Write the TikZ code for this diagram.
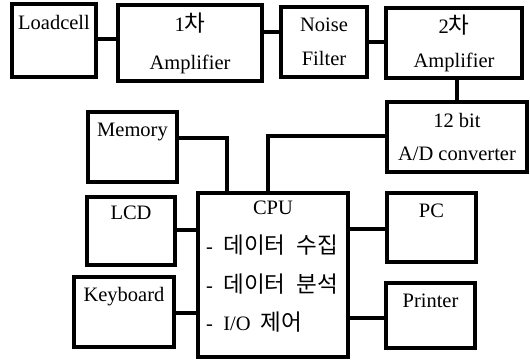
\documentclass[tikz,border=0pt]{standalone}
\usepackage{fontspec}
\setmainfont{Liberation Serif}
\newfontfamily\kr[Scale=1.1]{Noto Sans CJK KR}
\tikzset{
    blk/.style={draw, line width=3.2pt, inner sep=0pt},
    lbl/.style={anchor=north, inner sep=0pt, yshift=-12pt},
    wire/.style={line width=3.2pt},
}
\begin{document}
\begin{tikzpicture}[x=1pt,y=-1pt,font=\fontsize{20.5}{38}\selectfont]
        \useasboundingbox (0,0) rectangle (530,360);
        % top row
        \node[blk, minimum width=84pt, minimum height=73pt, label={[lbl,yshift=-1pt]north:Loadcell}] (load) at (54,40.5) {};
        \node[blk, minimum width=144pt, minimum height=76pt, align=center] (amp1) at (190,43) {1{\kr 차}\\Amplifier};
        \node[blk, minimum width=86pt, minimum height=70pt, align=center, font=\fontsize{20.5}{34}\selectfont] (noise) at (324,42) {Noise\\Filter};
        \node[blk, minimum width=136pt, minimum height=70pt, align=center, font=\fontsize{20.5}{34}\selectfont] (amp2) at (454,43) {2{\kr 차}\\Amplifier};
        \node[blk, minimum width=140pt, minimum height=70pt, align=center, font=\fontsize{20.5}{33}\selectfont] (adc) at (457,137) {12 bit\\A/D converter};

        % peripherals
        \node[blk, minimum width=89pt, minimum height=70pt, label={[lbl]north:Memory}] (mem) at (132.5,147) {};
        \node[blk, minimum width=88pt, minimum height=68pt, label={[lbl,yshift=2pt]north:LCD}] (lcd) at (131,231) {};
        \node[blk, minimum width=100pt, minimum height=70pt, label={[lbl]north:Keyboard}] (kbd) at (124,312) {};
        \node[blk, minimum width=89pt, minimum height=69pt, label={[lbl]north:PC}] (pc) at (431.5,227.5) {};
        \node[blk, minimum width=89pt, minimum height=65pt, label={[lbl]north:Printer}] (prn) at (430.5,315.5) {};

        % cpu
        \node[blk, minimum width=150pt, minimum height=164pt, label={[lbl,yshift=3pt]north:CPU}] (cpu) at (273,275) {};
        \node[anchor=west, align=left, inner sep=0pt, font=\fontsize{20.5}{38.5}\selectfont] (tasks) at (206,284)
            {-\enspace{\kr 데이터\enspace 수집}\\-\enspace{\kr 데이터\enspace 분석}\\-\enspace I/O\enspace{\kr 제어}};

        \coordinate (m1) at (227,138);
        \coordinate (a1) at (268,136);

        \draw[wire] (load.east |- 0,39) -- (amp1.west |- 0,39);
        \draw[wire] (amp1.east |- 0,32) -- (noise.west |- 0,32);
        \draw[wire] (noise.east |- 0,42) -- (amp2.west |- 0,42);
        \draw[wire] (amp2.south -| 457,0) -- (adc.north -| 457,0);
        \draw[wire] (adc.west |- a1) -- (a1) -- (a1 |- cpu.north);
        \draw[wire] (mem.east |- m1) -- (m1) -- (m1 |- cpu.north);
        \draw[wire] (lcd.east |- 0,230) -- (cpu.west |- 0,230);
        \draw[wire] (kbd.east |- 0,313) -- (cpu.west |- 0,313);
        \draw[wire] (cpu.east |- 0,229) -- (pc.west |- 0,229);
        \draw[wire] (cpu.east |- 0,318) -- (prn.west |- 0,318);
    \end{tikzpicture}
\end{document}
